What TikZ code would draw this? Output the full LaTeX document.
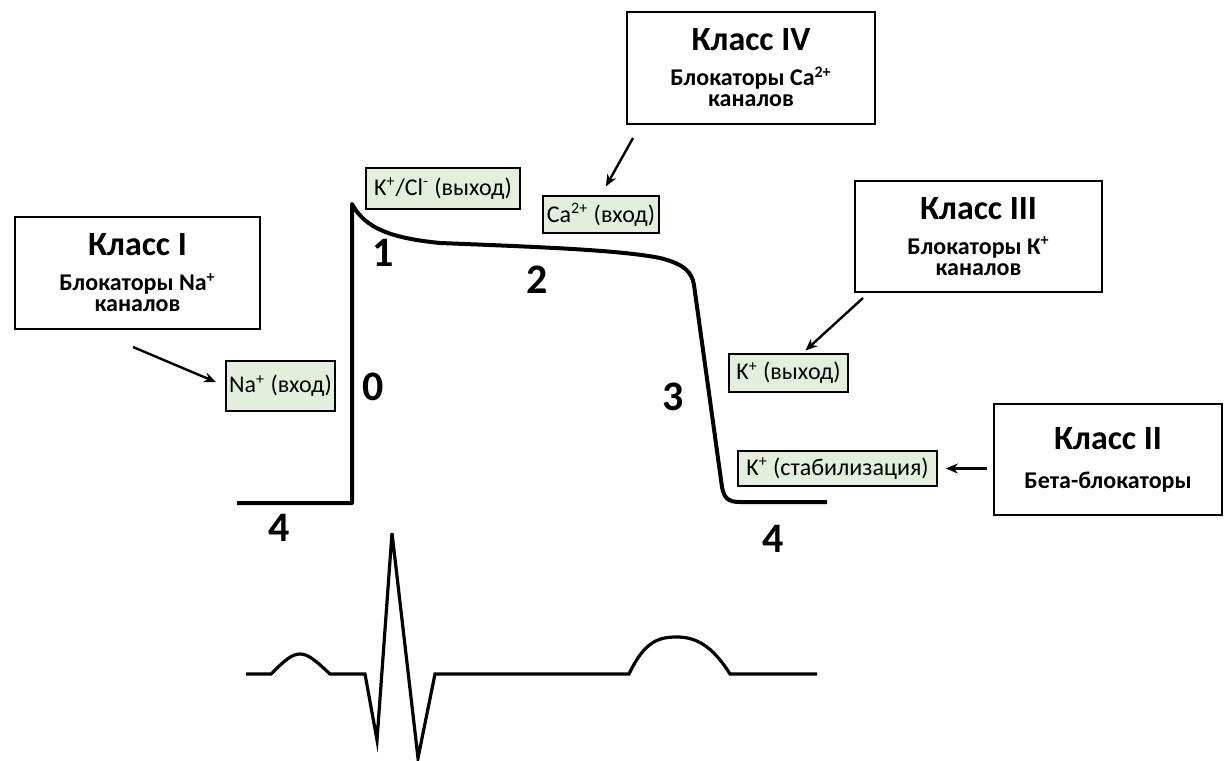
\documentclass[tikz,border=0pt]{standalone}
\usepackage{fontspec}
\setmainfont{Carlito}
\usepackage{tikz}
\usetikzlibrary{arrows.meta,calc}
\definecolor{ionfill}{RGB}{226,239,218}
\newcommand\clstitle[1]{{\fontsize{17}{17}\selectfont #1}}

\begin{document}
\begin{tikzpicture}[
  x=0.5pt, y=-0.5pt,
  cls/.style ={draw,line width=1.1pt,align=center,inner sep=0pt,
               font=\fontsize{12}{10.5}\selectfont\bfseries},
  ion/.style ={draw,line width=0.8pt,fill=ionfill,inner sep=1pt,
               font=\fontsize{12}{13}\selectfont},
  ph/.style  ={font=\fontsize{21}{21}\selectfont\bfseries,inner sep=0pt},
  ap/.style  ={line width=2pt,line join=round},
  ecg/.style ={line width=1.6pt},
  arr/.style ={->,line width=1.2pt},
  >={Stealth[length=6pt,width=5pt]}]
\useasboundingbox (0,0) rectangle (1225,760);

%---------------- drug classes ----------------
\node[cls,minimum width=122.5pt,minimum height=56pt] (cls1) at (137.5,273)
  {\clstitle{Класс I}\\[7pt]Блокаторы Na\textsuperscript{+}\\каналов};
\node[cls,minimum width=124pt,minimum height=56pt] (cls4) at (751,68)
  {\clstitle{Класс IV}\\[7pt]Блокаторы Ca\textsuperscript{2+}\\каналов};
\node[cls,minimum width=123.5pt,minimum height=55.5pt] (cls3) at (978.5,236.5)
  {\clstitle{Класс III}\\[7pt]Блокаторы К\textsuperscript{+}\\каналов};
\node[cls,minimum width=114pt,minimum height=55.5pt] (cls2) at (1108,459.5)
  {\clstitle{Класс II}\\[9pt]Бета-блокаторы};

%---------------- ion currents ----------------
\node[ion,minimum width=54.5pt,minimum height=25pt] (na) at (280.5,386) {Na\textsuperscript{+} (вход)};
\node[ion,minimum width=77pt,minimum height=20.5pt] (kcl) at (443,188.5) {K\textsuperscript{+}/Cl\textsuperscript{-} (выход)};
\node[ion,minimum width=58pt,minimum height=18.5pt] (ca) at (601,214.5) {Ca\textsuperscript{2+} (вход)};
\node[ion,minimum width=59.5pt,minimum height=19pt] (kout) at (788.5,373) {K\textsuperscript{+} (выход)};
\node[ion,minimum width=99.5pt,minimum height=17.5pt] (kstab) at (837.5,468.5) {K\textsuperscript{+} (стабилизация)};

%---------------- action potential ----------------
\draw[ap] (237,503) -- (352,503) -- (352,204)
  .. controls (365,228) and (390,238) .. (440,243)
  .. controls (540,247) and (620,250) .. (660,258)
  .. controls (684,264) and (692,272) .. (694,285)
  -- (722,487) .. controls (724,498) and (728,502) .. (740,502) -- (827,502);
\node[ph] (p0) at (373,387) {0};
\node[ph] (p1) at (383,253) {1};
\node[ph] (p2) at (537,280) {2};
\node[ph] (p3) at (673,397) {3};
\node[ph] (p4a) at (279,528) {4};
\node[ph] (p4b) at (773,539) {4};

%---------------- ECG ----------------
\draw[ecg] (246,674) -- (271,674)
  .. controls (285,660) and (292,654) .. (300,654)
  .. controls (308,654) and (315,660) .. (330,674)
  -- (365,674) -- (377,740) -- (392,533) -- (418,758) -- (435,674) -- (629,674)
  .. controls (645,640) and (660,637) .. (677,637)
  .. controls (695,637) and (712,645) .. (730,674) -- (817,674);

%---------------- class -> current ----------------
\coordinate (c1a) at (133,347);
\coordinate (c4a) at (633,138);
\coordinate (c3a) at (863,298);
\draw[arr,shorten >=5pt] (c1a) -- (na.west);
\draw[arr,shorten >=5pt] (c4a) -- (ca.north);
\draw[arr,shorten >=2pt] (c3a) -- ([xshift=7pt]kout.north);
\draw[arr,shorten <=3pt,shorten >=4pt] (cls2.west |- kstab.east) -- (kstab.east);

\end{tikzpicture}
\end{document}
